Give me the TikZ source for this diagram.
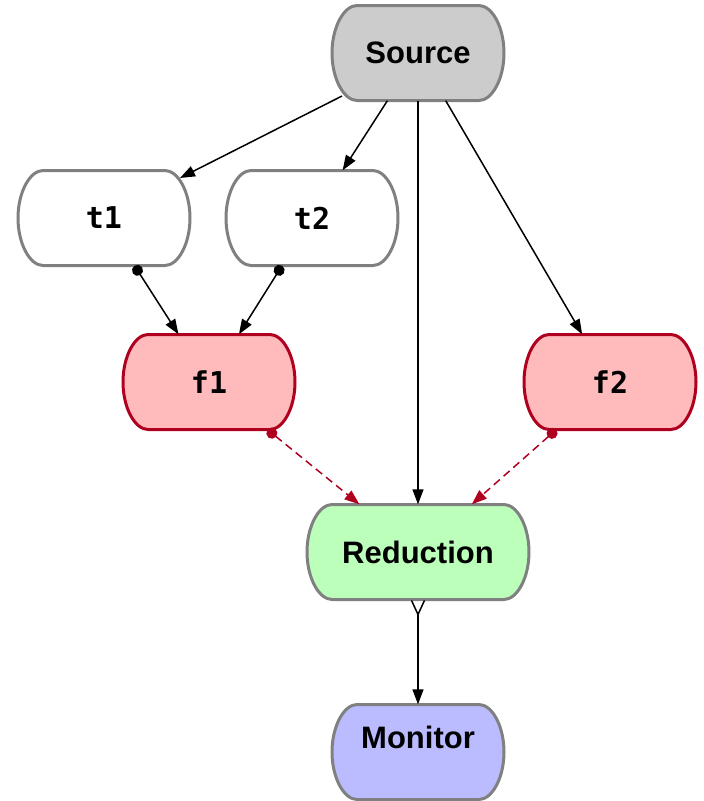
\documentclass[tikz,border=0pt]{standalone}
\usepackage{fontspec}
\setmainfont{Liberation Sans}
\newfontfamily\monofont{DejaVu Sans Mono}
\usetikzlibrary{arrows.meta}
\pgfdeclarelayer{background}
\pgfsetlayers{background,main}
\definecolor{bordergray}{HTML}{808080}
\definecolor{srcfill}{HTML}{CCCCCC}
\definecolor{redline}{HTML}{B00020}
\definecolor{pinkfill}{HTML}{FFBBBB}
\definecolor{greenfill}{HTML}{BBFFBB}
\definecolor{bluefill}{HTML}{BBBBFF}
% #1 node name, #2 half width, #3 style
\newcommand\myoutline[3]{%
  \pgfmathsetmacro\hw{#2}%
  \pgfmathsetmacro\ha{#2-25}%
  \pgfmathsetmacro\hc{#2-12}%
  \begin{scope}[shift={(#1.center)}]
    \path[#3] (-\ha pt,47.5pt) -- (\ha pt,47.5pt)
      .. controls (\hc pt,47.5pt) and (\hw pt,26pt) .. (\hw pt,0pt)
      .. controls (\hw pt,-26pt) and (\hc pt,-47.5pt) .. (\ha pt,-47.5pt)
      -- (-\ha pt,-47.5pt)
      .. controls (-\hc pt,-47.5pt) and (-\hw pt,-26pt) .. (-\hw pt,0pt)
      .. controls (-\hw pt,26pt) and (-\hc pt,47.5pt) .. cycle;
  \end{scope}}
\begin{document}
\begin{tikzpicture}[x=1pt,y=-1pt,
  box/.style={rectangle, minimum width=172pt, minimum height=95pt, inner sep=0pt,
    font=\fontsize{31}{37}\selectfont\bfseries},
  monobox/.style={box, font=\fontsize{30}{36}\selectfont\monofont\bfseries},
  grayline/.style={draw=bordergray, line width=3pt},
  redlinestyle/.style={draw=redline, line width=3pt, fill=pinkfill},
  edge/.style={line width=1.5pt, -{Triangle[length=15pt,width=11pt]}},
  dotedge/.style={line width=1.5pt, {Circle[length=11pt]}-{Triangle[length=15pt,width=11pt]}},
  redge/.style={dotedge, draw=redline, dash pattern=on 8pt off 5pt}
]
\useasboundingbox (0,0) rectangle (704,801);
\node[box] (source) at (418,53) {Source};
\node[monobox] (t1) at (104,218) {t1};
\node[monobox] (t2) at (312,218) {t2};
\node[monobox] (f1) at (209,382) {f1};
\node[monobox] (f2) at (610,382) {f2};
\node[box, minimum width=222pt] (red) at (418,552) {Reduction};
\node[box] (mon) at (418,752) {\raisebox{30pt}{Monitor}};

\begin{pgfonlayer}{background}
  \myoutline{source}{86}{grayline, fill=srcfill}
  \myoutline{t1}{86}{grayline, fill=white}
  \myoutline{t2}{86}{grayline, fill=white}
  \myoutline{f1}{86}{redlinestyle}
  \myoutline{f2}{86}{redlinestyle}
  \myoutline{red}{111}{grayline, fill=greenfill}
  \myoutline{mon}{86}{grayline, fill=bluefill}
\end{pgfonlayer}

\draw[edge] ([shift={(-76pt,-43pt)}]source.center) -- ([shift={(76pt,40pt)}]t1.center);
\draw[edge] (source) -- (t2);
\draw[edge] (source) -- (red);
\draw[edge] (source) -- (f2);
\draw[dotedge] (t1) -- (f1);
\draw[dotedge] (t2) -- (f1);
\draw[redge] (f1) -- (red);
\draw[redge] (f2) -- (red);
\draw[line width=1.5pt, {Straight Barb[reversed,length=14pt,width=13pt]}-{Triangle[length=15pt,width=11pt]}] (red) -- (mon);
\end{tikzpicture}
\end{document}
